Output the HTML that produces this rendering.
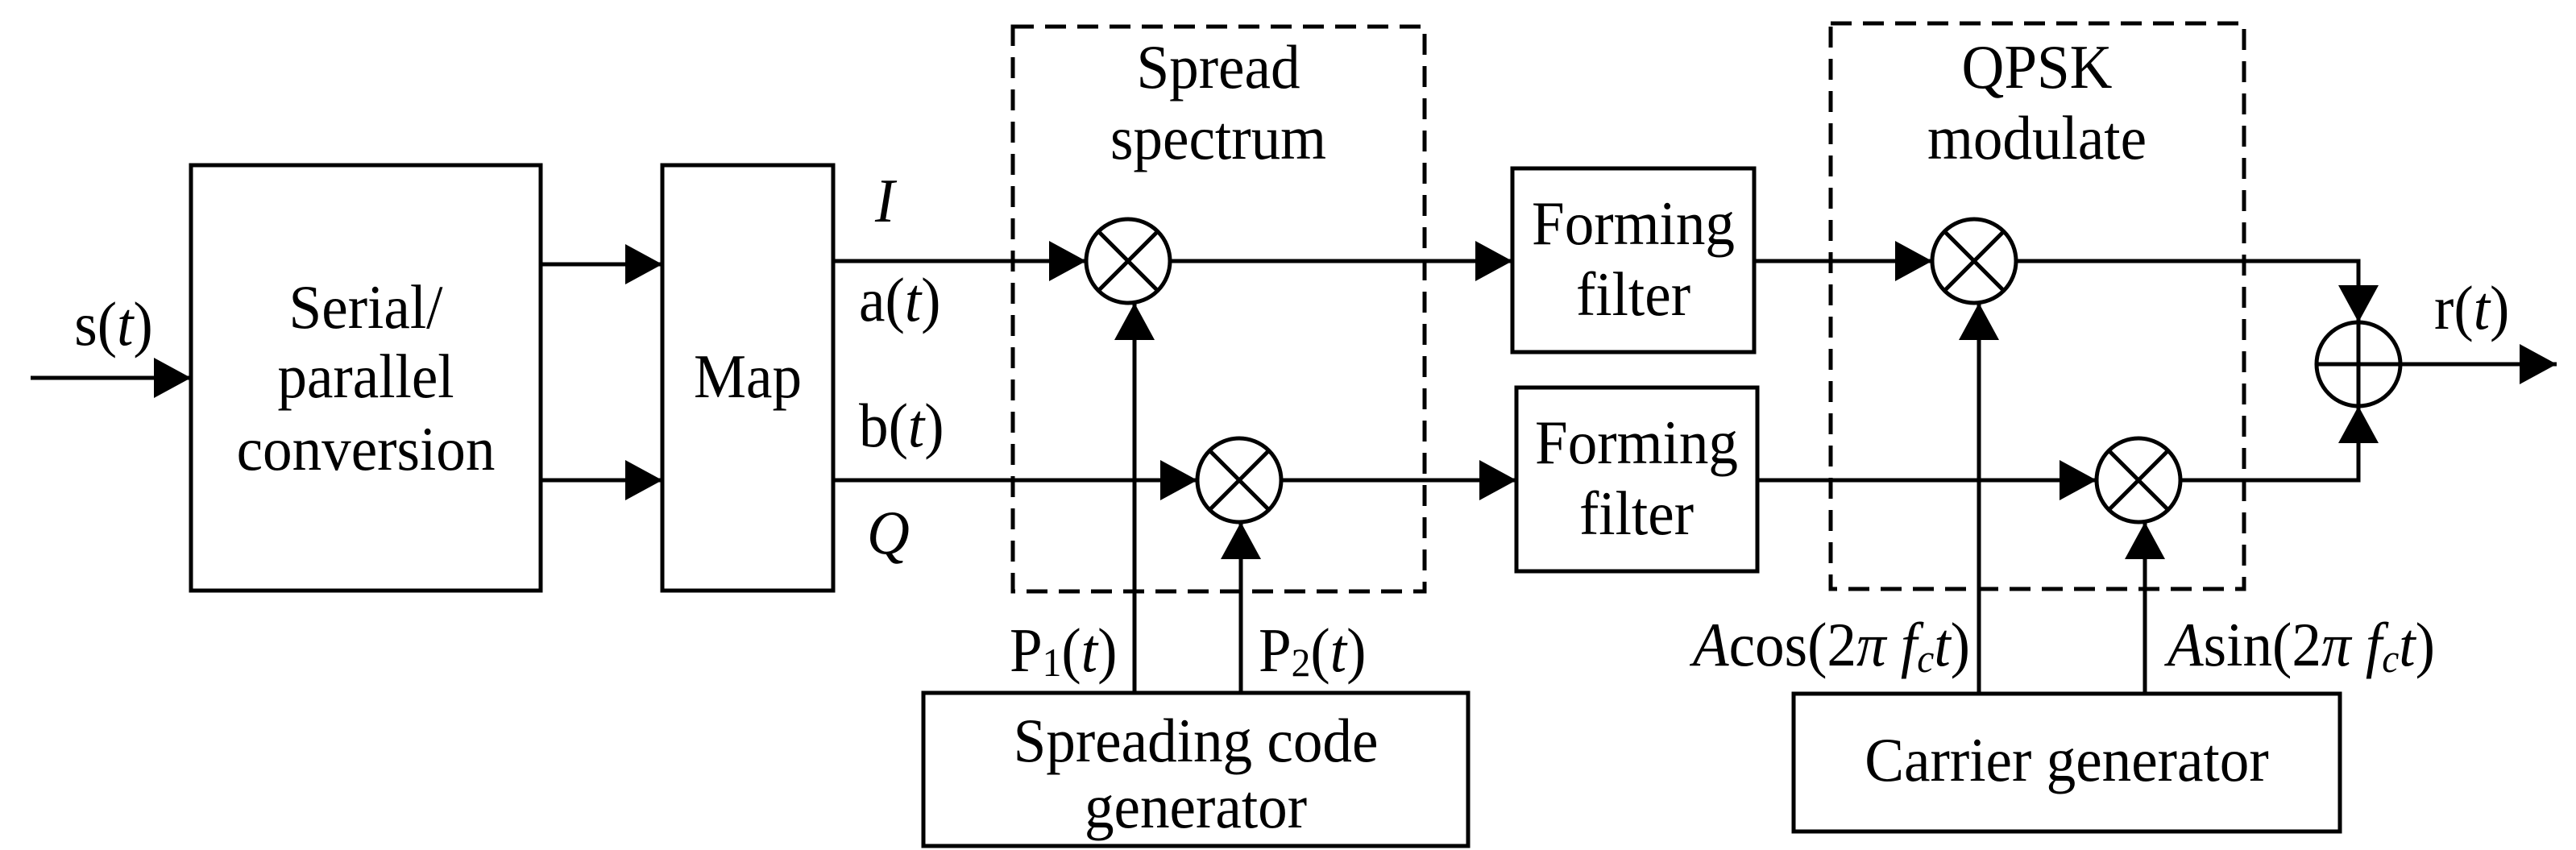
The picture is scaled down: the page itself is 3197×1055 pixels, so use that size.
<!DOCTYPE html>
<html><head><meta charset="utf-8"><style>
html,body{margin:0;padding:0;background:#fff}
svg{display:block}
text{font-family:"Liberation Serif",serif;font-size:77px;fill:#000}
.i{font-style:italic}
</style></head><body>
<svg width="3197" height="1055" viewBox="0 0 3197 1055" xmlns="http://www.w3.org/2000/svg">
<defs>
<marker id="a" markerWidth="46" markerHeight="50" refX="46" refY="25" orient="auto" markerUnits="userSpaceOnUse">
<path d="M0,0 L46,25 L0,50 Z" fill="#000"/></marker>
</defs>
<g fill="none" stroke="#000" stroke-width="5">
<rect x="237" y="205" width="434" height="528"/>
<rect x="822" y="205" width="212" height="528"/>
<rect x="1877" y="209" width="300" height="228"/>
<rect x="1882" y="481" width="299" height="228"/>
<rect x="1146" y="860" width="676" height="190"/>
<rect x="2226" y="861" width="678" height="171"/>
<rect x="1257" y="33" width="511" height="701" stroke-dasharray="26,14"/>
<rect x="2272" y="29" width="513" height="702" stroke-dasharray="26,14"/>
<circle cx="1400" cy="324" r="52"/>
<circle cx="1538" cy="596" r="52"/>
<circle cx="2450" cy="324" r="52"/>
<circle cx="2654" cy="596" r="52"/>
<circle cx="2927" cy="452" r="52"/>
<path d="M1363,287 L1437,361 M1437,287 L1363,361"/>
<path d="M1501,559 L1575,633 M1575,559 L1501,633"/>
<path d="M2413,287 L2487,361 M2487,287 L2413,361"/>
<path d="M2617,559 L2691,633 M2691,559 L2617,633"/>
<path d="M2875,452 L2979,452 M2927,400 L2927,504"/>
<line x1="38" y1="469" x2="237" y2="469" marker-end="url(#a)"/>
<line x1="671" y1="328" x2="822" y2="328" marker-end="url(#a)"/>
<line x1="671" y1="596" x2="822" y2="596" marker-end="url(#a)"/>
<line x1="1034" y1="324" x2="1348" y2="324" marker-end="url(#a)"/>
<line x1="1034" y1="596" x2="1486" y2="596" marker-end="url(#a)"/>
<line x1="1452" y1="324" x2="1877" y2="324" marker-end="url(#a)"/>
<line x1="1590" y1="596" x2="1882" y2="596" marker-end="url(#a)"/>
<line x1="2177" y1="324" x2="2398" y2="324" marker-end="url(#a)"/>
<line x1="2181" y1="596" x2="2602" y2="596" marker-end="url(#a)"/>
<line x1="1408" y1="860" x2="1408" y2="376" marker-end="url(#a)"/>
<line x1="1540" y1="860" x2="1540" y2="648" marker-end="url(#a)"/>
<line x1="2456" y1="861" x2="2456" y2="376" marker-end="url(#a)"/>
<line x1="2662" y1="861" x2="2662" y2="648" marker-end="url(#a)"/>
<polyline points="2502,324 2927,324 2927,400" marker-end="url(#a)"/>
<polyline points="2706,596 2927,596 2927,504" marker-end="url(#a)"/>
<line x1="2979" y1="452" x2="3173" y2="452" marker-end="url(#a)"/>
</g>
<g>
<text transform="translate(141,0) scale(0.95,1)" x="0" y="428" text-anchor="middle">s(<tspan class="i">t</tspan>)</text>
<text transform="translate(454,0) scale(0.95,1)" x="0" y="407" text-anchor="middle">Serial/</text>
<text transform="translate(454,0) scale(0.95,1)" x="0" y="493" text-anchor="middle">parallel</text>
<text transform="translate(454,0) scale(0.95,1)" x="0" y="583" text-anchor="middle">conversion</text>
<text transform="translate(928,0) scale(0.95,1)" x="0" y="493" text-anchor="middle">Map</text>
<text transform="translate(1086,0) scale(0.95,1)" x="0" y="275" class="i">I</text>
<text transform="translate(1066,0) scale(0.95,1)" x="0" y="398">a(<tspan class="i">t</tspan>)</text>
<text transform="translate(1066,0) scale(0.95,1)" x="0" y="554">b(<tspan class="i">t</tspan>)</text>
<text transform="translate(1076,0) scale(0.95,1)" x="0" y="687" class="i">Q</text>
<text transform="translate(1512,0) scale(0.95,1)" x="0" y="109" text-anchor="middle">Spread</text>
<text transform="translate(1512,0) scale(0.95,1)" x="0" y="197" text-anchor="middle">spectrum</text>
<text transform="translate(1253,0) scale(0.95,1)" x="0" y="833">P<tspan font-size="50" dy="6">1</tspan><tspan dy="-6">(</tspan><tspan class="i">t</tspan>)</text>
<text transform="translate(1562,0) scale(0.95,1)" x="0" y="833">P<tspan font-size="50" dy="6">2</tspan><tspan dy="-6">(</tspan><tspan class="i">t</tspan>)</text>
<text transform="translate(1484,0) scale(0.95,1)" x="0" y="945" text-anchor="middle">Spreading code</text>
<text transform="translate(1484,0) scale(0.95,1)" x="0" y="1027" text-anchor="middle">generator</text>
<text transform="translate(2027,0) scale(0.95,1)" x="0" y="303" text-anchor="middle">Forming</text>
<text transform="translate(2027,0) scale(0.95,1)" x="0" y="391" text-anchor="middle">filter</text>
<text transform="translate(2031,0) scale(0.95,1)" x="0" y="575" text-anchor="middle">Forming</text>
<text transform="translate(2031,0) scale(0.95,1)" x="0" y="663" text-anchor="middle">filter</text>
<text transform="translate(2528,0) scale(0.95,1)" x="0" y="109" text-anchor="middle">QPSK</text>
<text transform="translate(2528,0) scale(0.95,1)" x="0" y="197" text-anchor="middle">modulate</text>
<text transform="translate(2445,0) scale(0.95,1)" x="0" y="826" text-anchor="end"><tspan class="i">A</tspan>cos(2<tspan class="i">π f</tspan><tspan class="i" font-size="50" dy="8">c</tspan><tspan class="i" dy="-8">t</tspan>)</text>
<text transform="translate(2690,0) scale(0.95,1)" x="0" y="826"><tspan class="i">A</tspan>sin(2<tspan class="i">π f</tspan><tspan class="i" font-size="50" dy="8">c</tspan><tspan class="i" dy="-8">t</tspan>)</text>
<text transform="translate(2565,0) scale(0.95,1)" x="0" y="969" text-anchor="middle">Carrier generator</text>
<text transform="translate(3021,0) scale(0.95,1)" x="0" y="408">r(<tspan class="i">t</tspan>)</text>
</g>
</svg>
</body></html>
